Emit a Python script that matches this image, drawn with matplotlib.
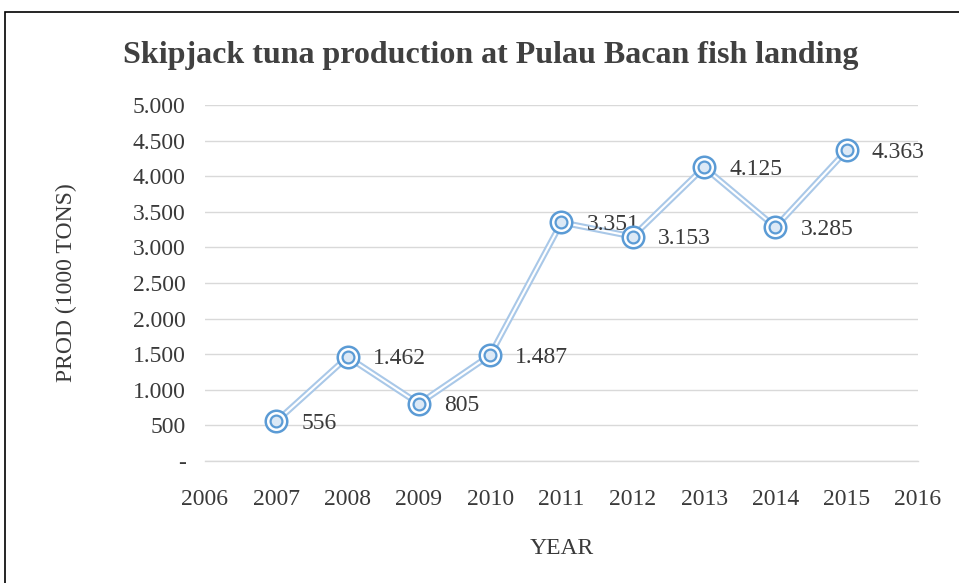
import numpy as np
import matplotlib.pyplot as plt
from matplotlib.patches import Rectangle

# data
years = [2007, 2008, 2009, 2010, 2011, 2012, 2013, 2014, 2015]
prod = [556, 1462, 805, 1487, 3351, 3153, 4125, 3285, 4363]
point_labels = ['556', '1.462', '805', '1.487', '3.351', '3.153', '4.125', '3.285', '4.363']
yticks = [0, 500, 1000, 1500, 2000, 2500, 3000, 3500, 4000, 4500, 5000]
ytick_labels = ['-', '500', '1.000', '1.500', '2.000', '2.500', '3.000',
                '3.500', '4.000', '4.500', '5.000']
xticks = list(range(2006, 2017))

serif = 'Liberation Serif'
blue = '#5b9bd5'
light = '#a9c8e8'
txt = '#3a3a3a'

fig = plt.figure(figsize=(9.59, 5.83), dpi=100)
ax = fig.add_axes([205/959, 1 - 461/583, (918 - 205)/959, (461 - 105)/583])

# double-stroke line
ax.plot(years, prod, '-', color=light, lw=4.5, zorder=2, solid_joinstyle='round')
ax.plot(years, prod, '-', color='white', lw=1.5, zorder=3, solid_joinstyle='round')
# ringed markers
ax.plot(years, prod, 'o', ms=15.5, mfc='white', mec=blue, mew=1.8, zorder=4)
ax.plot(years, prod, 'o', ms=8.5, mfc='#dce9f6', mec=blue, mew=1.6, zorder=5)

for x, y, s in zip(years, prod, point_labels):
    ax.annotate(s, (x, y), xytext=(18, -1.5), textcoords='offset points',
                ha='left', va='center', fontsize=17, family=serif, color=txt)

ax.set_xlim(2006, 2016)
ax.set_ylim(0, 5000)
ax.set_xticks(xticks)
ax.set_xticklabels([str(x) for x in xticks], family=serif, fontsize=17, color=txt)
ax.set_yticks(yticks)
ax.set_yticklabels(ytick_labels, family=serif, fontsize=17, color=txt)
ax.tick_params(length=0)
ax.tick_params(axis='y', pad=14)
ax.tick_params(axis='x', pad=20)
ax.grid(axis='y', color='#d9d9d9', lw=1)
ax.axhline(0, color='#d9d9d9', lw=1, clip_on=False, zorder=1)
ax.set_axisbelow(True)
for sp in ax.spines.values():
    sp.set_visible(False)

ax.set_ylabel('PROD (1000 TONS)', family=serif, fontsize=17, color=txt, labelpad=40)
ax.set_xlabel('YEAR', family=serif, fontsize=17, color=txt, labelpad=20)

fig.text(491/959, 1 - 56/583, 'Skipjack tuna production at Pulau Bacan fish landing',
         ha='center', va='center', family=serif, fontweight='bold', fontsize=23,
         color='#404040')

# frame around the chart
fig.patches.append(Rectangle((5/959, -0.1), 1.2, 1 - 12/583 + 0.1,
                             transform=fig.transFigure, fill=False,
                             edgecolor='black', lw=1.2))

fig.savefig('out.png', dpi=100)
